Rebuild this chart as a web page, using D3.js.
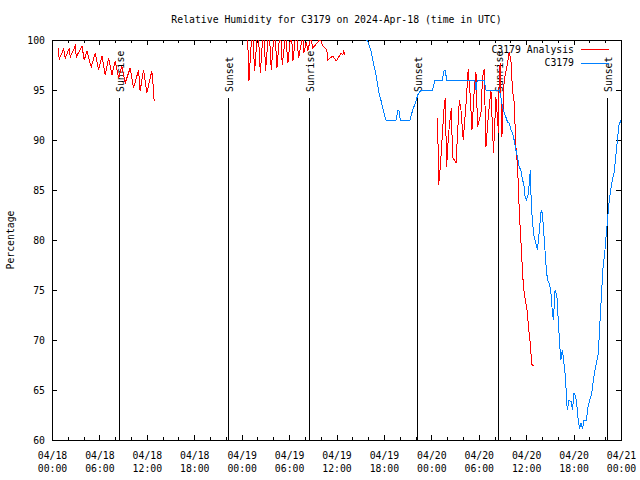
<!DOCTYPE html>
<html><head><meta charset="utf-8">
<script src="https://cdn.jsdelivr.net/npm/d3@7"></script>
<style>
body{margin:0;background:#fff}
svg text{font-family:"DejaVu Sans Mono","Liberation Mono",monospace;font-size:9.8px;fill:#000}
</style></head><body>
<svg id="c" width="640" height="480"></svg>
<script>
const titleText = "Relative Humidity for C3179 on 2024-Apr-18 (time in UTC)";
const yLabelText = "Percentage";
const seriesNames = ["C3179 Analysis", "C3179"];
const seriesColors = ["#ff0000", "#0080ff"];
const yTicks = [60, 65, 70, 75, 80, 85, 90, 95, 100];
const startTime = "2024-04-18T00:00:00Z";
const spanHours = 72;

// hours since 04/18 00:00 UTC ; null value = gap
const analysisHours = [
  0.76,0.92,1.48,1.68,2.19,2.31,2.94,3.07,3.79,4.08,4.42,4.96,5.47,5.90,6.32,6.73,7.16,7.58,8.00,8.43,
  8.84,9.26,9.89,10.32,10.95,11.15,11.58,12.00,12.63,12.85,12.92,
  18,
  24.73,24.92,25.35,25.64,26.06,26.36,26.78,27.03,27.45,27.75,28.17,28.46,28.89,29.14,29.56,29.85,30.28,30.48,30.91,31.20,
  31.74,31.87,32.17,32.38,32.72,33.01,33.64,33.94,34.27,34.78,34.90,35.53,35.96,36.59,36.80,36.92,37.01,
  42,
  48.80,48.92,49.14,49.43,49.64,49.77,49.93,50.19,50.53,50.69,51.12,51.54,51.75,52.04,52.38,52.67,52.93,53.14,53.43,53.65,
  53.85,54.28,54.48,54.69,54.91,55.24,55.54,55.87,56.17,56.50,56.59,56.72,56.93,57.22,57.64,57.85,58.07,58.27,58.48,58.70,
  58.90,59.03,59.12,59.33,59.53,59.66,59.84,59.96,60.16,60.29,60.47,60.59,60.67,60.92
];
const analysisValues = [
  99.2,98.1,99.1,98.2,99.2,98.3,99.4,98.3,99.4,98.0,98.9,97.3,98.7,97.0,98.4,96.5,98.2,96.5,97.9,96.2,
  97.4,95.7,97.2,95.2,97.0,94.9,97.0,94.7,96.9,95.0,93.9,
  null,
  101,95.9,101.5,96.9,101.5,96.7,101.5,96.9,101.5,97.0,101.5,97.2,101.2,97.5,100.5,97.7,101,97.9,101,98.2,
  100.5,98.7,99.8,98.9,100.2,99.2,99.8,100.1,99.4,99.0,98.0,98.4,97.9,98.7,98.5,99.0,98.5,
  null,
  92.2,85.5,87.3,91.0,93.5,94.2,87.3,90.7,93.2,88.3,87.7,94.0,93.0,90.0,93.5,97.1,94.3,91.0,95.0,96.8,
  91.3,92.7,96.3,97.1,89.3,92.7,95.0,88.7,94.3,90.7,97.0,97.7,90.3,96.0,97.7,98.8,98.0,95.0,93.8,89.3,
  87.5,85.0,83.0,80.0,77.0,75.3,74.3,73.7,72.7,71.3,70.0,69.0,67.6,67.4
];

const stationHours = [
  39.79,39.95,40.38,40.59,40.80,41.01,41.22,41.43,41.65,41.85,42.06,42.28,43.54,43.77,43.89,44.08,45.31,45.64,46.07,46.27,
  46.70,48.16,48.44,49.39,49.64,49.77,49.93,53.50,53.65,53.81,54.69,54.91,56.38,56.59,56.80,57.00,57.22,57.43,57.64,57.85,
  58.07,58.27,58.48,58.70,58.90,59.12,59.33,59.53,59.68,59.87,60.04,60.29,60.42,60.54,60.63,60.80,61.01,61.22,61.43,61.64,
  61.86,61.98,62.15,62.27,62.49,62.69,62.99,63.16,63.32,63.45,63.66,63.88,64.08,64.26,64.38,64.59,64.80,65.01,65.09,65.22,
  65.43,65.72,65.85,66.06,66.28,66.48,66.61,66.78,66.95,67.11,67.33,67.62,67.83,68.05,68.30,68.50,68.72,68.88,69.13,69.35,
  69.56,69.73,69.94,70.15,70.32,70.48,70.70,70.90,71.12,71.33,71.54,71.75,72.00
];
const stationValues = [
  100,99.9,98.9,98.0,97.2,96.5,95.5,94.5,93.9,93.2,92.5,92.0,92.0,93.0,93.0,92.0,92.0,93.0,93.9,94.5,
  95.0,95.0,96.0,96.0,97.0,97.0,96.0,96.0,95.0,96.0,96.0,95.0,95.0,95.0,94.3,93.3,92.7,92.3,91.8,91.7,
  91.0,90.7,90.0,89.0,88.3,87.3,87.0,86.0,85.7,84.3,84.0,84.7,86.0,87.0,84.0,81.7,80.3,79.7,79.0,80.7,
  82.7,83.0,81.7,80.3,77.7,76.0,75.5,74.5,72.7,72.0,75.0,74.5,71.7,69.3,68.0,69.0,67.5,66.0,64.0,63.0,
  64.0,63.8,63.0,64.7,64.3,63.0,61.7,61.2,61.7,61.1,62.0,62.0,63.3,64.0,64.7,66.0,67.0,67.7,68.7,72.0,
  75.0,77.3,78.7,80.7,82.3,83.7,85.0,86.0,86.7,88.3,90.0,91.5,92.0
];

const eventNames = ["Sunrise", "Sunset", "Sunrise", "Sunset", "Sunrise", "Sunset"];
const eventHours = [8.58, 22.32, 32.63, 46.27, 56.5, 70.27];
const eventTopValue = 94.2;

const svg = d3.select("#c");
const t0 = new Date(startTime);
const toDate = h => new Date(t0.getTime() + h * 3600e3);

const L = 52, R = 621, T = 40, B = 440;
const x = d3.scaleUtc().domain([t0, toDate(spanHours)]).range([L, R]);
const y = d3.scaleLinear().domain([60, 100]).range([B, T]);

svg.append("rect").attr("width", 640).attr("height", 480).attr("fill", "#fff");

svg.append("defs").append("clipPath").attr("id", "plotclip")
  .append("rect").attr("x", L).attr("y", T).attr("width", R - L).attr("height", B - T);

function styleAxis(g) {
  g.attr("font-family", null).attr("font-size", null);
  g.select(".domain").remove();
  g.selectAll(".tick line").attr("stroke", "#000").attr("shape-rendering", "crispEdges");
}

const major = d3.utcHour.every(6), minor = d3.utcHour.every(2);
// minor ticks bottom & top
svg.append("g").attr("transform", `translate(0,${B})`)
  .call(d3.axisBottom(x).ticks(minor).tickSize(-3).tickFormat("")).call(styleAxis);
svg.append("g").attr("transform", `translate(0,${T})`)
  .call(d3.axisTop(x).ticks(minor).tickSize(-3).tickFormat("")).call(styleAxis);
// major ticks top
svg.append("g").attr("transform", `translate(0,${T})`)
  .call(d3.axisTop(x).ticks(major).tickSize(-5).tickFormat("")).call(styleAxis);
// major ticks bottom with 2-line labels
const fmtD = d3.utcFormat("%m/%d"), fmtT = d3.utcFormat("%H:%M");
const xb = svg.append("g").attr("transform", `translate(0,${B})`)
  .call(d3.axisBottom(x).ticks(major).tickSize(-5).tickPadding(8).tickFormat(fmtD)).call(styleAxis);
xb.selectAll(".tick text").each(function(d) {
  const t = d3.select(this).text(null).attr("dy", null).attr("y", null);
  t.append("tspan").attr("x", 0).attr("y", 18.5).text(fmtD(d));
  t.append("tspan").attr("x", 0).attr("y", 32).text(fmtT(d));
});
// y axes
svg.append("g").attr("transform", `translate(${L},0)`)
  .call(d3.axisLeft(y).tickValues(yTicks).tickSize(-5).tickPadding(7)).call(styleAxis);
svg.append("g").attr("transform", `translate(${R},0)`)
  .call(d3.axisRight(y).tickValues(yTicks).tickSize(-5).tickFormat("")).call(styleAxis);

// border
svg.append("rect").attr("x", L).attr("y", T).attr("width", R - L).attr("height", B - T)
  .attr("fill", "none").attr("stroke", "#000").attr("shape-rendering", "crispEdges");

// events
const ev = svg.append("g");
eventHours.forEach((h, i) => {
  const ex = x(toDate(h));
  ev.append("line").attr("x1", ex).attr("x2", ex).attr("y1", y(eventTopValue)).attr("y2", y(60))
    .attr("stroke", "#000").attr("shape-rendering", "crispEdges");
  ev.append("text").attr("transform", `translate(${ex + 1},${y(eventTopValue) - 6}) rotate(-90)`)
    .attr("dy", "0.35em").attr("text-anchor", "start").text(eventNames[i]);
});

// series
const line = d3.line().defined(d => d.v != null).x(d => x(toDate(d.h))).y(d => y(d.v));
const analysis = analysisHours.map((h, i) => ({h, v: analysisValues[i]}));
const station = stationHours.map((h, i) => ({h, v: stationValues[i]}));
const plot = svg.append("g").attr("clip-path", "url(#plotclip)");
plot.append("path").datum(analysis).attr("d", line).attr("fill", "none")
  .attr("stroke", seriesColors[0]).attr("stroke-width", 1).attr("shape-rendering", "crispEdges");
plot.append("path").datum(station).attr("d", line).attr("fill", "none")
  .attr("stroke", seriesColors[1]).attr("stroke-width", 1).attr("shape-rendering", "crispEdges");

// legend
seriesNames.forEach((n, i) => {
  const ly = 49.5 + i * 13.5;
  svg.append("text").attr("x", 574).attr("y", ly).attr("dy", "0.35em").attr("text-anchor", "end").text(n);
  svg.append("line").attr("x1", 581).attr("x2", 609).attr("y1", ly).attr("y2", ly)
    .attr("stroke", seriesColors[i]).attr("shape-rendering", "crispEdges");
});

// title & y label
svg.append("text").attr("x", (L + R) / 2).attr("y", 20).attr("dy", "0.35em")
  .attr("text-anchor", "middle").text(titleText);
svg.append("text").attr("transform", `translate(11,240) rotate(-90)`).attr("dy", "0.35em")
  .attr("text-anchor", "middle").text(yLabelText);
</script>
</body></html>
